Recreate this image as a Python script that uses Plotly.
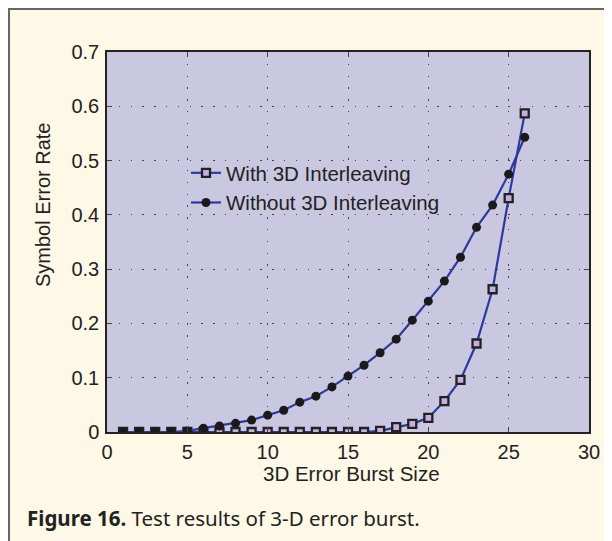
import plotly.graph_objects as go

burst_size = list(range(1, 27))
with_interleaving = [0, 0, 0, 0, 0, 0, 0, 0, 0, 0, 0, 0, 0, 0, 0, 0,
                     0.002, 0.009, 0.015, 0.026, 0.057, 0.096, 0.163, 0.263, 0.431, 0.587]
without_interleaving = [0, 0, 0, 0, 0.002, 0.007, 0.011, 0.016, 0.022, 0.031, 0.040, 0.055, 0.066,
                        0.083, 0.103, 0.123, 0.146, 0.171, 0.206, 0.241, 0.278, 0.322, 0.377,
                        0.418, 0.475, 0.543]
x_ticks = [0, 5, 10, 15, 20, 25, 30]
y_ticks = [0, 0.1, 0.2, 0.3, 0.4, 0.5, 0.6, 0.7]
y_ticktext = ["0", "0.1", "0.2", "0.3", "0.4", "0.5", "0.6", "0.7"]

LINE = "#2e399e"
PLOT_BG = "#cac7e0"
PAPER_BG = "#fef8e6"
FONT = "Liberation Sans, Arial, sans-serif"
TXT = "#222222"

# The page body adds an 8px offset; work in figure (paper) pixels = screen - 8
OFF = 8
W, H = 612 - OFF, 541 - OFF
L, R, T, B = 107 - OFF, 589 - OFF, 52 - OFF, 432 - OFF
def px_x(p):  # screen px -> paper fraction
    return (p - OFF - L) / (R - L)
def px_y(p):
    return (B - (p - OFF)) / (B - T)

fig = go.Figure()
fig.add_trace(go.Scatter(
    x=burst_size, y=with_interleaving, name="With 3D Interleaving",
    mode="lines+markers",
    line=dict(color=LINE, width=2.2),
    marker=dict(symbol="square", size=8, color="#c3b0e0",
                line=dict(color="#222222", width=2.3)),
))
fig.add_trace(go.Scatter(
    x=burst_size, y=without_interleaving, name="Without 3D Interleaving",
    mode="lines+markers",
    line=dict(color=LINE, width=2.2),
    marker=dict(symbol="circle", size=9, color="#1a1a1a",
                line=dict(color="#1a1a1a", width=0)),
))

axis_common = dict(
    showline=True, linecolor="#222222", linewidth=1.5, mirror="allticks",
    ticks="inside", ticklen=5, tickcolor="#444444", tickwidth=1,
    showgrid=True, gridcolor="#444444", gridwidth=1, griddash="1.3px,10.5px",
    zeroline=False,
    tickfont=dict(family=FONT, size=20, color=TXT),
)

fig.update_layout(
    width=W, height=H,
    margin=dict(l=L, r=W - R, t=T, b=H - B),
    paper_bgcolor=PAPER_BG, plot_bgcolor=PLOT_BG,
    font=dict(family=FONT, size=20, color=TXT),
    showlegend=True,
    legend=dict(
        x=px_x(186), y=px_y(153), xanchor="left", yanchor="top",
        bgcolor="rgba(0,0,0,0)", borderwidth=0,
        font=dict(family=FONT, size=20.5, color=TXT),
        itemwidth=30, tracegroupgap=0,
    ),
    xaxis=dict(range=[0, 30], tickvals=x_ticks, ticklabelstandoff=1,
               **axis_common),
    yaxis=dict(range=[0, 0.7], tickvals=y_ticks, ticktext=y_ticktext,
               ticklabelstandoff=2,
               **axis_common),
)

# axis titles
fig.add_annotation(
    xref="paper", yref="paper", x=px_x(351), y=px_y(473),
    xanchor="center", yanchor="middle", showarrow=False,
    text="3D Error Burst Size",
    font=dict(family=FONT, size=20.5, color=TXT),
)
fig.add_annotation(
    xref="paper", yref="paper", x=px_x(43), y=px_y(205),
    xanchor="center", yanchor="middle", showarrow=False, textangle=-90,
    text="Symbol Error Rate",
    font=dict(family=FONT, size=20, color=TXT),
)

# outer frame (top and left edges visible)
fig.add_shape(type="rect", xref="paper", yref="paper",
              x0=px_x(9), x1=px_x(640), y0=px_y(580), y1=px_y(9),
              line=dict(color="#666666", width=2), fillcolor="rgba(0,0,0,0)",
              layer="below")

fig.add_annotation(
    xref="paper", yref="paper", x=px_x(25), y=px_y(518),
    xanchor="left", yanchor="middle", showarrow=False,
    text="<b>Figure 16.</b> Test results of 3-D error burst.",
    font=dict(family="Noto Sans, Open Sans, sans-serif", size=20.5, color=TXT),
)

fig.write_html("out.html")
